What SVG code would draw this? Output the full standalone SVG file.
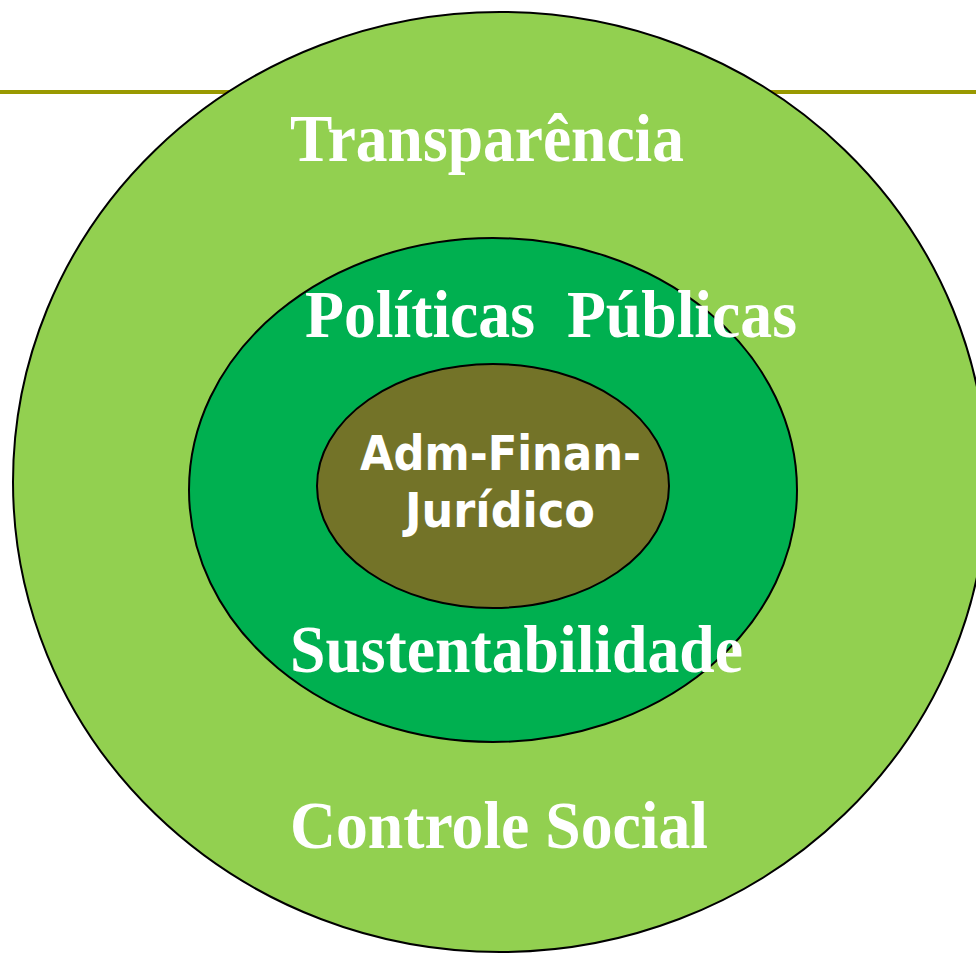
<svg xmlns="http://www.w3.org/2000/svg" width="976" height="954" viewBox="0 0 976 954">
<style>
.ring{stroke:#000;stroke-width:2}
.serif{font-family:"Liberation Serif","Times New Roman",serif;font-weight:bold;fill:#fff;font-size:68px}
.sans{font-family:"DejaVu Sans","Liberation Sans",sans-serif;font-weight:bold;fill:#fff;font-size:48px}
</style>
<rect width="976" height="954" fill="#fff"/>
<g id="rule"><line x1="0" y1="92" x2="976" y2="92" stroke="#999900" stroke-width="4"/></g>
<g id="outer">
<ellipse class="ring" cx="500" cy="482" rx="487" ry="470" fill="#92D050"/>
<text class="serif" x="290" y="161" textLength="394" lengthAdjust="spacingAndGlyphs">Transparência</text>
<text class="serif" x="290" y="848" textLength="418" lengthAdjust="spacingAndGlyphs">Controle Social</text>
</g>
<g id="middle">
<ellipse class="ring" cx="493" cy="490" rx="304" ry="252" fill="#00B050"/>
<text class="serif" x="305" y="337" xml:space="preserve" textLength="492" lengthAdjust="spacingAndGlyphs">Políticas  Públicas</text>
<text class="serif" x="290" y="672" textLength="453" lengthAdjust="spacingAndGlyphs">Sustentabilidade</text>
</g>
<g id="inner">
<ellipse class="ring" cx="493" cy="486" rx="176" ry="122" fill="#737328"/>
<text class="sans" x="360" y="470" textLength="281" lengthAdjust="spacingAndGlyphs">Adm-Finan-</text>
<text class="sans" x="405" y="527" textLength="190" lengthAdjust="spacingAndGlyphs">Jurídico</text>
</g>
<g id="connectors"/>
</svg>
